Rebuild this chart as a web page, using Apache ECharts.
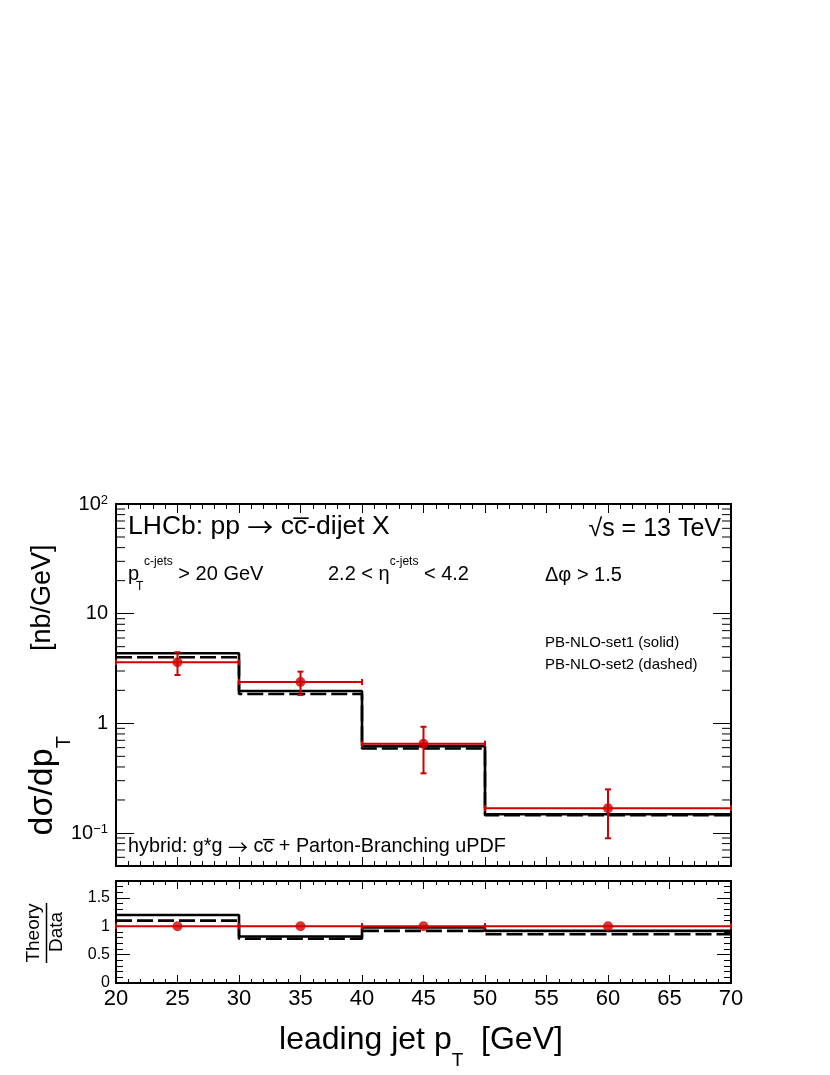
<!DOCTYPE html>
<html><head><meta charset="utf-8">
<script src="https://cdn.jsdelivr.net/npm/echarts@6/dist/echarts.min.js"></script>
<style>html,body{margin:0;padding:0;background:#fff}#c{width:830px;height:1075px}</style>
</head><body><div id="c"></div>
<script>
// ---- data ----
const binEdges = [20, 30, 40, 50, 70];
const binCenters = [25, 35, 45, 60];
const set1 = [4.35, 1.97, 0.62, 0.148];          // PB-NLO-set1 (solid)
const set2 = [4.0, 1.85, 0.59, 0.145];           // PB-NLO-set2 (dashed)
const dataVal = [3.6, 2.38, 0.65, 0.168];        // LHCb data
const dataErrLow = [2.76, 1.81, 0.35, 0.0895];
const dataErrHigh = [4.45, 2.96, 0.93, 0.25];
const ratioSet1 = [1.20, 0.82, 0.98, 0.92];
const ratioSet2 = [1.10, 0.78, 0.92, 0.86];
const ratioData = [1, 1, 1, 1];
const yLogTicks = [0.1, 1, 10, 100];
const yLogTickLabels = ['10{sup|\u22121}', '1', '10', '10{sup|2}'];
const yMinorTicks = [0.06, 0.07, 0.08, 0.09, 0.2, 0.3, 0.4, 0.5, 0.6, 0.7, 0.8, 0.9,
  2, 3, 4, 5, 6, 7, 8, 9, 20, 30, 40, 50, 60, 70, 80, 90];

const RED = '#d00000';
const FONT = '"Liberation Sans", Arial, Helvetica, sans-serif';
const ARW = '"Noto Sans CJK SC", "DejaVu Sans", sans-serif';

function stepData(vals) {
  return binEdges.map((e, i) => [e, vals[Math.min(i, vals.length - 1)]]);
}
function errData(vals, lo, hi) {
  return vals.map((v, i) => [binEdges[i], binEdges[i + 1], binCenters[i], v, lo[i], hi[i]]);
}
function errRender(params, api) {
  const xl = api.value(0), xh = api.value(1), xc = api.value(2);
  const y = api.value(3), yl = api.value(4), yh = api.value(5);
  const pL = api.coord([xl, y]), pH = api.coord([xh, y]);
  const st = { stroke: RED, lineWidth: 2 };
  const ch = [
    { type: 'line', shape: { x1: pL[0], y1: pL[1], x2: pH[0], y2: pH[1] }, style: st },
    { type: 'line', shape: { x1: pL[0], y1: pL[1] - 3, x2: pL[0], y2: pL[1] + 3 }, style: st },
    { type: 'line', shape: { x1: pH[0], y1: pH[1] - 3, x2: pH[0], y2: pH[1] + 3 }, style: st }
  ];
  if (yl !== yh) {
    const pT = api.coord([xc, yh]), pB = api.coord([xc, yl]);
    ch.push({ type: 'line', shape: { x1: pT[0], y1: pT[1], x2: pB[0], y2: pB[1] }, style: st });
    ch.push({ type: 'line', shape: { x1: pT[0] - 3, y1: pT[1], x2: pT[0] + 3, y2: pT[1] }, style: st });
    ch.push({ type: 'line', shape: { x1: pB[0] - 3, y1: pB[1], x2: pB[0] + 3, y2: pB[1] }, style: st });
  }
  return { type: 'group', children: ch };
}
function minorTickRender(params, api) {
  const cs = params.coordSys;
  const p = api.coord([binEdges[0], api.value(1)]);
  const st = { stroke: '#000', lineWidth: 1 };
  return { type: 'group', children: [
    { type: 'line', shape: { x1: cs.x, y1: p[1], x2: cs.x + 9, y2: p[1] }, style: st },
    { type: 'line', shape: { x1: cs.x + cs.width - 9, y1: p[1], x2: cs.x + cs.width, y2: p[1] }, style: st }
  ] };
}

const frame = { show: true, onZero: false, lineStyle: { color: '#000', width: 2 } };
function xAx(grid, pos, labels, tl, ml) {
  return {
    gridIndex: grid, type: 'value', min: 20, max: 70, interval: 5, position: pos,
    axisLine: frame,
    axisTick: { show: true, inside: true, length: tl, lineStyle: { color: '#000', width: 1 } },
    minorTick: { show: true, splitNumber: 5, length: ml, lineStyle: { color: '#000', width: 1 } },
    axisLabel: { show: labels, fontSize: 22, margin: 5, color: '#000', fontFamily: FONT },
    splitLine: { show: false }, minorSplitLine: { show: false }
  };
}
const chart = echarts.init(document.getElementById('c'), null, { renderer: 'canvas' });
const option = {
  backgroundColor: '#fff',
  animation: false,
  textStyle: { fontFamily: FONT, color: '#000' },
  grid: [
    { left: 116, top: 504, width: 615, height: 362, outerBoundsMode: 'none', containLabel: false },
    { left: 116, top: 881, width: 615, height: 102, outerBoundsMode: 'none', containLabel: false }
  ],
  xAxis: [
    xAx(0, 'bottom', false, 9, 5),
    xAx(0, 'top', false, 9, 5),
    xAx(1, 'bottom', true, 8, 4),
    xAx(1, 'top', false, 8, 4)
  ],
  yAxis: [
    {
      gridIndex: 0, type: 'log', logBase: 10, min: 0.05, max: 100, position: 'left',
      axisLine: frame,
      axisTick: { show: true, inside: true, length: 18, lineStyle: { color: '#000', width: 1 } },
      axisLabel: {
        show: true, showMinLabel: false, margin: 8, fontSize: 20, color: '#000', fontFamily: FONT,
        formatter: function (v) {
          for (let i = 0; i < yLogTicks.length; i++) {
            if (Math.abs(Math.log10(v) - Math.log10(yLogTicks[i])) < 1e-6) return yLogTickLabels[i];
          }
          return '';
        },
        rich: { sup: { fontSize: 13, verticalAlign: 'top', lineHeight: 13, fontFamily: FONT, color: '#000' } }
      },
      splitLine: { show: false }
    },
    {
      gridIndex: 0, type: 'log', logBase: 10, min: 0.05, max: 100, position: 'right',
      axisLine: frame,
      axisTick: { show: true, inside: true, length: 18, lineStyle: { color: '#000', width: 1 } },
      axisLabel: { show: false }, splitLine: { show: false }
    },
    {
      gridIndex: 1, type: 'value', min: 0, max: 1.8, interval: 0.5, position: 'left',
      axisLine: frame,
      axisTick: { show: true, inside: true, length: 14, lineStyle: { color: '#000', width: 1 } },
      minorTick: { show: true, splitNumber: 5, length: 7, lineStyle: { color: '#000', width: 1 } },
      axisLabel: { show: true, showMaxLabel: false, margin: 6, fontSize: 16, color: '#000', fontFamily: FONT },
      splitLine: { show: false }, minorSplitLine: { show: false }
    },
    {
      gridIndex: 1, type: 'value', min: 0, max: 1.8, interval: 0.5, position: 'right',
      axisLine: frame,
      axisTick: { show: true, inside: true, length: 14, lineStyle: { color: '#000', width: 1 } },
      minorTick: { show: true, splitNumber: 5, length: 7, lineStyle: { color: '#000', width: 1 } },
      axisLabel: { show: false }, splitLine: { show: false }, minorSplitLine: { show: false }
    }
  ],
  series: [
    { type: 'custom', xAxisIndex: 0, yAxisIndex: 0, silent: true, clip: false,
      data: yMinorTicks.map(v => [binEdges[0], v]), encode: { x: 0, y: 1 }, renderItem: minorTickRender, z: 1 },
    { type: 'line', xAxisIndex: 0, yAxisIndex: 0, step: 'end', symbol: 'none', z: 3,
      data: stepData(set1), lineStyle: { color: '#000', width: 2.6 } },
    { type: 'line', xAxisIndex: 0, yAxisIndex: 0, step: 'end', symbol: 'none', z: 3,
      data: stepData(set2), lineStyle: { color: '#000', width: 2.6, type: [16, 5] } },
    { type: 'custom', xAxisIndex: 0, yAxisIndex: 0, z: 4,
      data: errData(dataVal, dataErrLow, dataErrHigh), encode: { x: [0, 1, 2], y: [3, 4, 5] }, renderItem: errRender },
    { type: 'scatter', xAxisIndex: 0, yAxisIndex: 0, z: 5, symbol: 'circle', symbolSize: 10,
      data: binCenters.map((x, i) => [x, dataVal[i]]), itemStyle: { color: RED } },

    { type: 'line', xAxisIndex: 2, yAxisIndex: 2, step: 'end', symbol: 'none', z: 3,
      data: stepData(ratioSet1), lineStyle: { color: '#000', width: 2.6 } },
    { type: 'line', xAxisIndex: 2, yAxisIndex: 2, step: 'end', symbol: 'none', z: 3,
      data: stepData(ratioSet2), lineStyle: { color: '#000', width: 2.6, type: [16, 5] } },
    { type: 'custom', xAxisIndex: 2, yAxisIndex: 2, z: 4,
      data: errData(ratioData, ratioData, ratioData), encode: { x: [0, 1, 2], y: [3, 4, 5] }, renderItem: errRender },
    { type: 'scatter', xAxisIndex: 2, yAxisIndex: 2, z: 5, symbol: 'circle', symbolSize: 10,
      data: binCenters.map((x, i) => [x, ratioData[i]]), itemStyle: { color: RED } }
  ],
  graphic: [
    { type: 'text', x: 128, y: 527, style: {
        text: '{m|LHCb: pp }{a|\u2192}{m| cc\u0305-dijet X}', fontFamily: FONT, fill: '#000', align: 'left', verticalAlign: 'middle',
        rich: { m: { fontSize: 26.5, fontFamily: FONT, lineHeight: 32 }, a: { fontSize: 26, fontFamily: ARW, lineHeight: 32 } } } },
    { type: 'text', x: 721, y: 529, style: { text: '\u221As = 13 TeV', fontSize: 25, fontFamily: FONT, fill: '#000', align: 'right', verticalAlign: 'middle' } },
    { type: 'text', x: 128, y: 574, style: {
        text: '{m|p}{sp|c-jets}{m| > 20 GeV}', fontFamily: FONT, fill: '#000', align: 'left', verticalAlign: 'middle',
        rich: { m: { fontSize: 20, lineHeight: 36, fontFamily: FONT }, sp: { fontSize: 12, lineHeight: 12, verticalAlign: 'top', padding: [0, 0, 0, 5], fontFamily: FONT } } } },
    { type: 'text', x: 136, y: 587, style: { text: 'T', fontSize: 12, fontFamily: FONT, fill: '#000', align: 'left', verticalAlign: 'middle' } },
    { type: 'text', x: 328, y: 574, style: {
        text: '{m|2.2 < \u03B7}{sp|c-jets}{m| < 4.2}', fontFamily: FONT, fill: '#000', align: 'left', verticalAlign: 'middle',
        rich: { m: { fontSize: 20, lineHeight: 36, fontFamily: FONT }, sp: { fontSize: 12, lineHeight: 12, verticalAlign: 'top', fontFamily: FONT } } } },
    { type: 'text', x: 545, y: 575, style: { text: '\u0394\u03C6 > 1.5', fontSize: 20, fontFamily: FONT, fill: '#000', align: 'left', verticalAlign: 'middle' } },
    { type: 'text', x: 545, y: 643, style: { text: 'PB-NLO-set1 (solid)', fontSize: 15, fontFamily: FONT, fill: '#000', align: 'left', verticalAlign: 'middle' } },
    { type: 'text', x: 545, y: 665, style: { text: 'PB-NLO-set2 (dashed)', fontSize: 15, fontFamily: FONT, fill: '#000', align: 'left', verticalAlign: 'middle' } },
    { type: 'text', x: 128, y: 847, style: {
        text: '{m|hybrid: g*g }{a|\u2192}{m| cc\u0305 + Parton-Branching uPDF}', fontFamily: FONT, fill: '#000', align: 'left', verticalAlign: 'middle',
        rich: { m: { fontSize: 19.8, fontFamily: FONT, lineHeight: 26 }, a: { fontSize: 20, fontFamily: ARW, lineHeight: 26 } } } },
    { type: 'text', x: 43, y: 690, rotation: Math.PI / 2, style: {
        text: '{m|d\u03C3/dp}{s|T}{m|         }{n|[nb/GeV]}', fontFamily: FONT, fill: '#000', align: 'center', verticalAlign: 'middle',
        rich: { m: { fontSize: 34, lineHeight: 63, fontFamily: FONT }, n: { fontSize: 27, lineHeight: 63, fontFamily: FONT },
                s: { fontSize: 20, lineHeight: 20, verticalAlign: 'bottom', fontFamily: FONT } } } },
    { type: 'text', x: 34, y: 933, rotation: Math.PI / 2, style: { text: 'Theory', fontSize: 19, fontFamily: FONT, fill: '#000', align: 'center', verticalAlign: 'middle' } },
    { type: 'line', shape: { x1: 46.5, y1: 903, x2: 46.5, y2: 963 }, style: { stroke: '#000', lineWidth: 1.5 } },
    { type: 'text', x: 57, y: 932, rotation: Math.PI / 2, style: { text: 'Data', fontSize: 19, fontFamily: FONT, fill: '#000', align: 'center', verticalAlign: 'middle' } },
    { type: 'text', x: 421, y: 1040, style: {
        text: '{m|leading jet p}{s|T}{m|  [GeV]}', fontFamily: FONT, fill: '#000', align: 'center', verticalAlign: 'middle',
        rich: { m: { fontSize: 32, lineHeight: 61, fontFamily: FONT }, s: { fontSize: 19, lineHeight: 19, verticalAlign: 'bottom', fontFamily: FONT } } } }
  ]
};
chart.setOption(option);
</script>
</body></html>
